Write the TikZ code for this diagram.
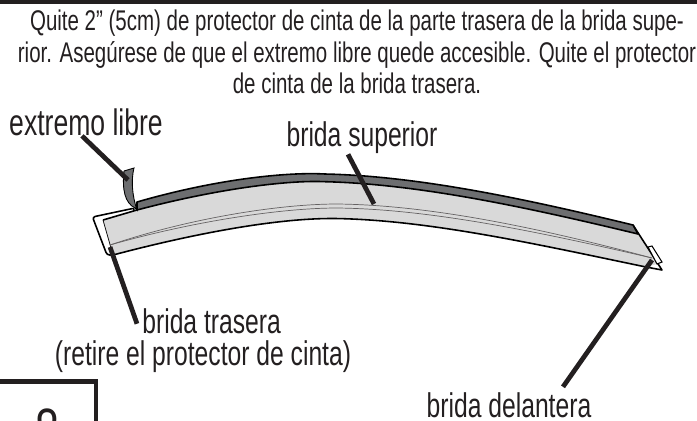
\documentclass[tikz,border=0pt]{standalone}
\usepackage{fontspec}
\setmainfont[FakeStretch=0.72]{Liberation Sans}
\definecolor{inkblack}{HTML}{231F20}
\definecolor{tapegray}{HTML}{6D6E70}
\definecolor{flangegray}{HTML}{D9D9D9}
\begin{document}
\begin{tikzpicture}[x=0.02cm,y=-0.02cm,
    leader/.style={draw=inkblack,line width=2.7pt},
    outline/.style={draw=black,line width=0.9pt,line join=round},
    thinline/.style={draw=inkblack!70,line width=0.4pt},
    caption/.style={inner sep=0pt,text=inkblack,font=\fontsize{16.2}{18}\selectfont,align=center},
    partlabel/.style={inner sep=0pt,text=inkblack,font=\fontsize{19.5}{22}\selectfont,align=center}
]
    \useasboundingbox (0,0) rectangle (697,420);

    % Bar along the top edge
    \fill[inkblack] (0,0) rectangle (697,4);

    % Instruction text
    \node[caption] (instruction) at (357,52) {Quite 2” (5cm) de protector de cinta de la parte trasera de la brida supe-\\
        rior. Asegúrese de que el extremo libre quede accesible. Quite el protector\\
        de cinta de la brida trasera.};

    % White end of the flange
    \draw[outline,fill=white,rounded corners=1.5pt]
        (135,208) -- (92.5,217) -- (107,255) -- (113,255) -- (120,240) -- cycle;

    % Gray body of the flange
    \fill[flangegray]
        (103,220) -- (137,210) .. controls (220,188) and (290,180) .. (325,181.7)
        .. controls (420,184) and (530,208) .. (638,234)
        -- (657,264) -- (646,267)
        .. controls (540,245) and (430,220) .. (335,218.5)
        .. controls (280,218) and (200,232) .. (113,255) -- cycle;
    \draw[outline] (113,255) .. controls (200,232) and (280,218) .. (335,218.5)
        .. controls (430,220) and (540,245) .. (646,267);
    \draw[draw=black,line width=0.4pt] (103,220) -- (113,255);
    \draw[outline] (103,220) -- (137,210);

    % Tip on the right side
    \draw[outline] (633,225) -- (662,270) -- (646,267);
    \draw[draw=black,line width=0.6pt,fill=white] (648,247) -- (652,246) -- (662,262) -- (657,264) -- cycle;

    % Two thin lines inside the flange
    \draw[thinline] (110,245) .. controls (190,218) and (280,204) .. (337,204) .. controls (430,205) and (540,228) .. (652,258);
    \draw[thinline] (110,245) .. controls (190,222) and (280,208) .. (337,208) .. controls (430,209) and (540,232) .. (652,258);

    % Tape on the upper flange
    \draw[outline,fill=tapegray]
        (137,202) .. controls (220,178) and (290,172) .. (325,174)
        .. controls (420,176) and (530,200) .. (633,225)
        -- (638,234)
        .. controls (530,208) and (420,184) .. (325,181.7)
        .. controls (290,180) and (220,188) .. (137,210)
        -- cycle;

    % Loose end of the tape
    \draw[draw=black,line width=0.5pt,fill=tapegray]
        (124,171) -- (134,168)
        .. controls (131,180) and (132,195) .. (137,210)
        -- (135,208)
        .. controls (125,203) and (122,190) .. (124,171);

    % Labels
    \node[partlabel,font=\fontsize{21}{24}\selectfont] (extremo) at (86,122) {extremo libre};
    \node[partlabel] (superior) at (362,138) {brida superior};
    \node[partlabel,anchor=base west] (trasera) at (142,333) {brida trasera};
    \node[partlabel,anchor=base] (retire) at (203,365) {(retire el protector de cinta)};
    \node[partlabel,anchor=base] (delantera) at (509,417) {brida delantera};

    % Ends of the leaders
    \coordinate (tapeend) at (128,180);
    \coordinate (flangetop) at (374,204);
    \coordinate (flangeback) at (110,247);
    \coordinate (flangefront) at (652,260);

    \draw[leader] (extremo.south) ++(-4,0) -- (tapeend);
    \draw[leader] (superior.south) ++(-14,0) -- (flangetop);
    \draw[leader] (trasera.west) ++(-5,3) -- (flangeback);
    \draw[leader] (delantera.north) ++(54,-5) -- (flangefront);

    % Box with the step number, cut off by the lower edge
    \draw[draw=inkblack,line width=2.6pt] (-5,381.5) -- (96,381.5) -- (96,425);
    \begin{scope}
        \clip (0,382) rectangle (93,420);
        \node[inner sep=0pt,text=inkblack,font=\fontsize{34}{34}\selectfont,anchor=north] (stepnumber) at (47,408) {8};
    \end{scope}
\end{tikzpicture}
\end{document}
